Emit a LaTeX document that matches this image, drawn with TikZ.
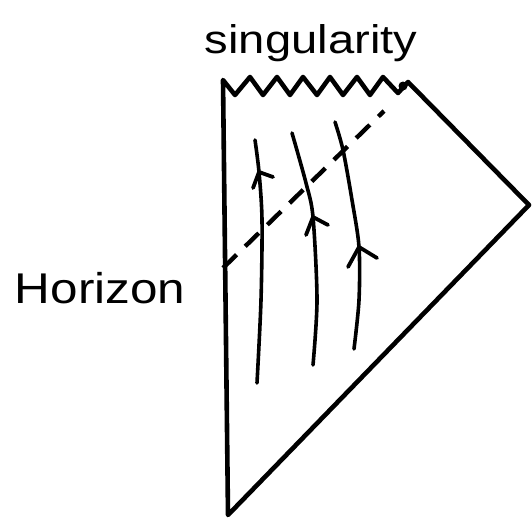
\documentclass[tikz,border=0pt]{standalone}
\usepackage{fontspec}
\setmainfont{Liberation Sans}
\usetikzlibrary{calc}
\tikzset{
  frame/.style={line width=4.6pt, line join=round, line cap=round},
  worldline/.style={line width=3.6pt, line cap=round},
  chevron/.style={line width=3.8pt, line cap=round, line join=round},
  horizonline/.style={line width=4.4pt, dash pattern=on 19pt off 12pt},
  hand/.style={inner sep=0pt, anchor=base}
}
\begin{document}
\begin{tikzpicture}[x=1pt, y=-1pt]
  \fill[white] (0,0) rectangle (532,519);
  \useasboundingbox (0,0) rectangle (532,519);
  % corners
  \coordinate (TL) at (223,80);
  \coordinate (TR) at (408,82);
  \coordinate (R) at (529,205);
  \coordinate (B) at (228,515);
  \coordinate (H1) at (223,268);
  \coordinate (H2) at (384,111);
  % frame with singularity zigzag
  \draw[frame] (B) -- (TL)
    -- (235,95) -- (250,77) -- (263,95) -- (277,77) -- (290,95) -- (303,77)
    -- (317,95) -- (330,77) -- (343,95) -- (357,77) -- (370,95) -- (383,77)
    -- (398,93) -- (TR) -- (R) -- cycle;
  \fill (403,86) circle (4.5pt);
  % horizon
  \draw[horizonline] (H1) -- (H2);
  % worldlines
  \draw[worldline] plot[smooth] coordinates {(257,383) (261,300) (262,220) (259,172) (255,140)};
  \draw[worldline] plot[smooth] coordinates {(313,365) (317,300) (313,217) (306,183) (292,133)};
  \draw[worldline] plot[smooth] coordinates {(354,349) (359,300) (359,247) (352,200) (343,150) (335,122)};
  % arrowheads
  \draw[chevron] (253,188) -- (259,172) -- (273,177);
  \draw[chevron] (306,235) -- (313,217) -- (328,225);
  \draw[chevron] (348,267) -- (359,247) -- (377,258);
  % labels
  \node[hand] (sing) at (311,53) {\fontsize{40}{48}\selectfont\scalebox{1.18}[1]{singularity}};
  \node[hand] (hor) at (100,303) {\fontsize{43}{50}\selectfont\scalebox{1.15}[1]{Horizon}};
\end{tikzpicture}
\end{document}
